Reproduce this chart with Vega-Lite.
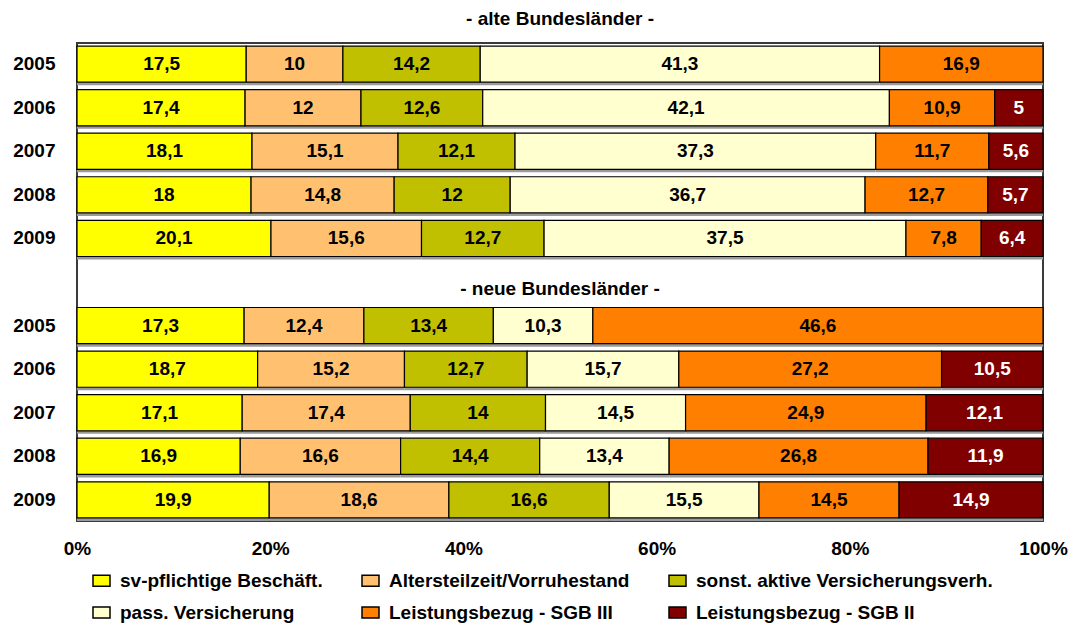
{
  "$schema": "https://vega.github.io/schema/vega-lite/v6.json",
  "width": 966,
  "height": 478,
  "autosize": "none",
  "padding": {"left": 77, "top": 43, "right": 31, "bottom": 107},
  "config": {
    "font": "Liberation Sans",
    "view": {"stroke": "#3a3a3a", "strokeWidth": 2},
    "locale": {"number": {"decimal": ",", "thousands": ".", "grouping": [3], "currency": ["", " €"]}}
  },
  "title": {"text": "- alte Bundesländer -", "fontSize": 19, "fontWeight": "bold", "color": "black", "offset": 14, "anchor": "middle", "frame": "group"},
  "datasets": {
    "werte": [
      {"z": "alte 2005", "k": 1, "kat": "sv-pflichtige Beschäft.", "wert": 17.5},
      {"z": "alte 2005", "k": 2, "kat": "Altersteilzeit/Vorruhestand", "wert": 10},
      {"z": "alte 2005", "k": 3, "kat": "sonst. aktive Versicherungsverh.", "wert": 14.2},
      {"z": "alte 2005", "k": 4, "kat": "pass. Versicherung", "wert": 41.3},
      {"z": "alte 2005", "k": 5, "kat": "Leistungsbezug - SGB III", "wert": 16.9},
      {"z": "alte 2006", "k": 1, "kat": "sv-pflichtige Beschäft.", "wert": 17.4},
      {"z": "alte 2006", "k": 2, "kat": "Altersteilzeit/Vorruhestand", "wert": 12},
      {"z": "alte 2006", "k": 3, "kat": "sonst. aktive Versicherungsverh.", "wert": 12.6},
      {"z": "alte 2006", "k": 4, "kat": "pass. Versicherung", "wert": 42.1},
      {"z": "alte 2006", "k": 5, "kat": "Leistungsbezug - SGB III", "wert": 10.9},
      {"z": "alte 2006", "k": 6, "kat": "Leistungsbezug - SGB II", "wert": 5},
      {"z": "alte 2007", "k": 1, "kat": "sv-pflichtige Beschäft.", "wert": 18.1},
      {"z": "alte 2007", "k": 2, "kat": "Altersteilzeit/Vorruhestand", "wert": 15.1},
      {"z": "alte 2007", "k": 3, "kat": "sonst. aktive Versicherungsverh.", "wert": 12.1},
      {"z": "alte 2007", "k": 4, "kat": "pass. Versicherung", "wert": 37.3},
      {"z": "alte 2007", "k": 5, "kat": "Leistungsbezug - SGB III", "wert": 11.7},
      {"z": "alte 2007", "k": 6, "kat": "Leistungsbezug - SGB II", "wert": 5.6},
      {"z": "alte 2008", "k": 1, "kat": "sv-pflichtige Beschäft.", "wert": 18},
      {"z": "alte 2008", "k": 2, "kat": "Altersteilzeit/Vorruhestand", "wert": 14.8},
      {"z": "alte 2008", "k": 3, "kat": "sonst. aktive Versicherungsverh.", "wert": 12},
      {"z": "alte 2008", "k": 4, "kat": "pass. Versicherung", "wert": 36.7},
      {"z": "alte 2008", "k": 5, "kat": "Leistungsbezug - SGB III", "wert": 12.7},
      {"z": "alte 2008", "k": 6, "kat": "Leistungsbezug - SGB II", "wert": 5.7},
      {"z": "alte 2009", "k": 1, "kat": "sv-pflichtige Beschäft.", "wert": 20.1},
      {"z": "alte 2009", "k": 2, "kat": "Altersteilzeit/Vorruhestand", "wert": 15.6},
      {"z": "alte 2009", "k": 3, "kat": "sonst. aktive Versicherungsverh.", "wert": 12.7},
      {"z": "alte 2009", "k": 4, "kat": "pass. Versicherung", "wert": 37.5},
      {"z": "alte 2009", "k": 5, "kat": "Leistungsbezug - SGB III", "wert": 7.8},
      {"z": "alte 2009", "k": 6, "kat": "Leistungsbezug - SGB II", "wert": 6.4},
      {"z": "neue 2005", "k": 1, "kat": "sv-pflichtige Beschäft.", "wert": 17.3},
      {"z": "neue 2005", "k": 2, "kat": "Altersteilzeit/Vorruhestand", "wert": 12.4},
      {"z": "neue 2005", "k": 3, "kat": "sonst. aktive Versicherungsverh.", "wert": 13.4},
      {"z": "neue 2005", "k": 4, "kat": "pass. Versicherung", "wert": 10.3},
      {"z": "neue 2005", "k": 5, "kat": "Leistungsbezug - SGB III", "wert": 46.6},
      {"z": "neue 2006", "k": 1, "kat": "sv-pflichtige Beschäft.", "wert": 18.7},
      {"z": "neue 2006", "k": 2, "kat": "Altersteilzeit/Vorruhestand", "wert": 15.2},
      {"z": "neue 2006", "k": 3, "kat": "sonst. aktive Versicherungsverh.", "wert": 12.7},
      {"z": "neue 2006", "k": 4, "kat": "pass. Versicherung", "wert": 15.7},
      {"z": "neue 2006", "k": 5, "kat": "Leistungsbezug - SGB III", "wert": 27.2},
      {"z": "neue 2006", "k": 6, "kat": "Leistungsbezug - SGB II", "wert": 10.5},
      {"z": "neue 2007", "k": 1, "kat": "sv-pflichtige Beschäft.", "wert": 17.1},
      {"z": "neue 2007", "k": 2, "kat": "Altersteilzeit/Vorruhestand", "wert": 17.4},
      {"z": "neue 2007", "k": 3, "kat": "sonst. aktive Versicherungsverh.", "wert": 14},
      {"z": "neue 2007", "k": 4, "kat": "pass. Versicherung", "wert": 14.5},
      {"z": "neue 2007", "k": 5, "kat": "Leistungsbezug - SGB III", "wert": 24.9},
      {"z": "neue 2007", "k": 6, "kat": "Leistungsbezug - SGB II", "wert": 12.1},
      {"z": "neue 2008", "k": 1, "kat": "sv-pflichtige Beschäft.", "wert": 16.9},
      {"z": "neue 2008", "k": 2, "kat": "Altersteilzeit/Vorruhestand", "wert": 16.6},
      {"z": "neue 2008", "k": 3, "kat": "sonst. aktive Versicherungsverh.", "wert": 14.4},
      {"z": "neue 2008", "k": 4, "kat": "pass. Versicherung", "wert": 13.4},
      {"z": "neue 2008", "k": 5, "kat": "Leistungsbezug - SGB III", "wert": 26.8},
      {"z": "neue 2008", "k": 6, "kat": "Leistungsbezug - SGB II", "wert": 11.9},
      {"z": "neue 2009", "k": 1, "kat": "sv-pflichtige Beschäft.", "wert": 19.9},
      {"z": "neue 2009", "k": 2, "kat": "Altersteilzeit/Vorruhestand", "wert": 18.6},
      {"z": "neue 2009", "k": 3, "kat": "sonst. aktive Versicherungsverh.", "wert": 16.6},
      {"z": "neue 2009", "k": 4, "kat": "pass. Versicherung", "wert": 15.5},
      {"z": "neue 2009", "k": 5, "kat": "Leistungsbezug - SGB III", "wert": 14.5},
      {"z": "neue 2009", "k": 6, "kat": "Leistungsbezug - SGB II", "wert": 14.9}
    ]
  },
  "encoding": {
    "y": {
      "field": "z",
      "type": "nominal",
      "scale": {
        "domain": ["alte 2005", "alte 2006", "alte 2007", "alte 2008", "alte 2009", "neue Bundesländer", "neue 2005", "neue 2006", "neue 2007", "neue 2008", "neue 2009"],
        "paddingInner": 0.17,
        "paddingOuter": 0.07
      },
      "axis": {
        "title": null,
        "labelExpr": "indexof(datum.value, 'Bundes') >= 0 ? '' : slice(datum.value, -4)",
        "ticks": false,
        "tickSize": 0,
        "domain": false,
        "labelPadding": 22,
        "labelFontSize": 19,
        "labelFontWeight": "bold",
        "labelColor": "black"
      }
    }
  },
  "layer": [
    {
      "data": {"name": "werte"},
      "mark": {"type": "bar", "color": "#9a9a9a", "strokeWidth": 0},
      "encoding": {
        "x": {"field": "wert", "type": "quantitative", "stack": "normalize"},
        "yOffset": {"value": 3},
        "detail": {"field": "kat"},
        "order": {"field": "k", "type": "quantitative"}
      }
    },
    {
      "data": {"name": "werte"},
      "mark": {"type": "bar", "stroke": "black", "strokeWidth": 1.2},
      "encoding": {
        "x": {
          "field": "wert",
          "type": "quantitative",
          "stack": "normalize",
          "scale": {"domain": [0, 1]},
          "axis": {
            "title": null,
            "format": ".0%",
            "values": [0, 0.2, 0.4, 0.6, 0.8, 1],
            "ticks": false,
            "tickSize": 0,
            "domain": false,
            "grid": false,
            "labelFlush": false,
            "labelPadding": 18,
            "labelFontSize": 19,
            "labelFontWeight": "bold",
            "labelColor": "black"
          }
        },
        "color": {
          "field": "kat",
          "type": "nominal",
          "scale": {
            "domain": ["sv-pflichtige Beschäft.", "Altersteilzeit/Vorruhestand", "sonst. aktive Versicherungsverh.", "pass. Versicherung", "Leistungsbezug - SGB III", "Leistungsbezug - SGB II"],
            "range": ["#FFFF00", "#FFC070", "#C0C000", "#FFFFD0", "#FF8000", "#800000"]
          },
          "legend": {
            "title": null,
            "orient": "none",
            "legendX": 15,
            "legendY": 528,
            "direction": "horizontal",
            "columns": 3,
            "columnPadding": 36,
            "rowPadding": 12,
            "padding": 0,
            "labelFontSize": 19,
            "labelFontWeight": "bold",
            "labelColor": "black",
            "labelLimit": 500,
            "labelOffset": 9,
            "symbolType": "M-1,-0.65H1V0.65H-1Z",
            "symbolSize": 289,
            "symbolStrokeColor": "black",
            "symbolStrokeWidth": 1.5
          }
        },
        "order": {"field": "k", "type": "quantitative"}
      }
    },
    {
      "data": {"name": "werte"},
      "mark": {"type": "text", "fontSize": 19, "fontWeight": "bold"},
      "encoding": {
        "x": {"field": "wert", "type": "quantitative", "stack": "normalize", "bandPosition": 0.5},
        "detail": {"field": "kat"},
        "order": {"field": "k", "type": "quantitative"},
        "text": {"field": "wert", "type": "quantitative", "format": ".1~f"},
        "color": {"condition": {"test": "datum.k == 6", "value": "white"}, "value": "black"}
      }
    },
    {
      "data": {"values": [{"z": "neue Bundesländer", "t": "- neue Bundesländer -"}]},
      "mark": {"type": "text", "fontSize": 19, "fontWeight": "bold", "color": "black", "dy": 7},
      "encoding": {
        "x": {"datum": 0.5, "type": "quantitative"},
        "text": {"field": "t"}
      }
    }
  ]
}
